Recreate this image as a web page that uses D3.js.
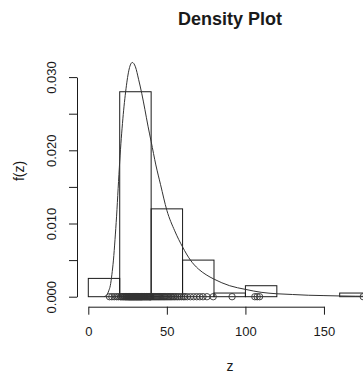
<!DOCTYPE html>
<html>
<head>
<meta charset="utf-8">
<script src="https://cdn.jsdelivr.net/npm/d3@7"></script>
<style>
  html, body { margin: 0; padding: 0; background: #fff; }
  svg { display: block; }
</style>
</head>
<body>
<script>
// ---- data ----
const title = "Density Plot";
const xLabel = "z";
const yLabel = "f(z)";

// observed sample values (n = 100)
const sampleValues = [
  13.5, 15, 16.5, 18, 19.2,
  20.5, 21, 21.8, 22.3, 22.9, 23.4, 23.8, 24.2, 24.6, 25, 25.3, 25.7, 26, 26.3, 26.6,
  26.9, 27.2, 27.5, 27.8, 28.1, 28.4, 28.7, 29, 29.3, 29.6, 29.9, 30.2, 30.5, 30.8, 31.1,
  31.4, 31.7, 32, 32.3, 32.6, 32.9, 33.2, 33.5, 33.8, 34.1, 34.4, 34.8, 35.2, 35.6, 36,
  36.4, 36.8, 37.2, 37.6, 38, 38.4, 38.8, 39.1, 39.4, 39.7, 39.9,
  40.6, 41.3, 42, 42.7, 43.4, 44.1, 44.8, 45.5, 46.2, 46.9, 47.6, 48.3, 49, 49.8, 50.6,
  51.4, 52.2, 53, 53.9, 54.8, 55.8, 56.8, 57.9, 59.2,
  60.5, 61.5, 63, 65, 67, 69, 71, 73, 75.5, 79.5,
  91.5,
  106, 107.5, 109,
  175
];

// histogram breaks
const breaks = [0, 20, 40, 60, 80, 100, 120, 140, 160, 180];

// fitted density curve
const curveX = [10, 11, 12, 13, 14, 15, 16, 17, 18, 19, 20, 22, 24, 26, 28, 30, 32, 34, 36, 38,
                40, 43, 46, 50, 55, 60, 65, 70, 75, 80, 90, 100, 110, 120, 130, 140, 150, 160, 170, 180];
const curveY = [0, 0.0001, 0.0003, 0.0008, 0.0015, 0.003, 0.005, 0.0078, 0.011, 0.0148, 0.0185,
                0.0243, 0.0284, 0.0311, 0.0320, 0.0314, 0.0297, 0.0278, 0.0256, 0.0233,
                0.0212, 0.0180, 0.0153, 0.0118, 0.0090, 0.0068, 0.0050, 0.0038, 0.0030, 0.0024,
                0.0015, 0.0010, 0.0006, 0.0004, 0.0003, 0.0002, 0.00015, 0.0001, 0.00007, 0.00005];

const xTicks = [0, 50, 100, 150];
const yTicks = [0, 0.005, 0.010, 0.015, 0.020, 0.025, 0.030];
const yTickLabels = ["0.000", "", "0.010", "", "0.020", "", "0.030"];

// ---- drawing ----
const W = 363, H = 373;
const svg = d3.select("body").append("svg").attr("width", W).attr("height", H);

const x = d3.scaleLinear().domain([0, 180]).range([88.3, 371.1]);
const y = d3.scaleLinear().domain([0, 0.030]).range([296.7, 77.1]);

const font = "'Liberation Sans', Arial, Helvetica, sans-serif";
const ink = "#1a1a1a";

// histogram
const bins = d3.bin().domain([breaks[0], breaks[breaks.length - 1]]).thresholds(breaks.slice(1, -1))(sampleValues);
const n = sampleValues.length;
svg.append("g").selectAll("rect").data(bins).join("rect")
  .attr("x", d => x(d.x0))
  .attr("width", d => x(d.x1) - x(d.x0))
  .attr("y", d => y(d.length / (n * (d.x1 - d.x0))))
  .attr("height", d => y(0) - y(d.length / (n * (d.x1 - d.x0))))
  .attr("fill", "none")
  .attr("stroke", ink)
  .attr("stroke-width", 1);

// density curve
const line = d3.line().x((d, i) => x(curveX[i])).y(d => y(d)).curve(d3.curveMonotoneX);
svg.append("path").datum(curveY).attr("d", line)
  .attr("fill", "none").attr("stroke", "#333").attr("stroke-width", 1);

// sample points
svg.append("g").selectAll("circle").data(sampleValues).join("circle")
  .attr("cx", d => x(d)).attr("cy", y(0)).attr("r", 3.2)
  .attr("fill", "none").attr("stroke", "#333").attr("stroke-width", 0.9);

// x axis
const xAxisScale = x.copy().domain([0, 150]).range([x(0), x(150)]);
const gx = svg.append("g").attr("transform", `translate(0,306.7)`)
  .call(d3.axisBottom(xAxisScale).tickValues(xTicks).tickFormat(d3.format("d")).tickSize(8).tickSizeOuter(0).tickPadding(12));
gx.selectAll("text").attr("font-size", 13).attr("font-family", font).attr("fill", ink);
gx.selectAll("line, path").attr("stroke", ink);

// y axis
const gy = svg.append("g").attr("transform", `translate(77,0)`)
  .call(d3.axisLeft(y).tickValues(yTicks).tickFormat((d, i) => yTickLabels[i]).tickSize(8).tickSizeOuter(0));
gy.selectAll("text")
  .attr("font-size", 13).attr("font-family", font).attr("fill", ink)
  .attr("text-anchor", "middle").attr("dy", 0)
  .attr("x", 0).attr("y", -20.7)
  .attr("transform", "rotate(-90)");
gy.selectAll("line, path").attr("stroke", ink);

// labels
svg.append("text").attr("x", 230).attr("y", 24.5).attr("text-anchor", "middle")
  .attr("font-family", font).attr("font-weight", "bold").attr("font-size", 18).attr("fill", ink)
  .text(title);
svg.append("text").attr("x", 230).attr("y", 371).attr("text-anchor", "middle")
  .attr("font-family", font).attr("font-size", 14).attr("fill", ink)
  .text(xLabel);
svg.append("text").attr("transform", "translate(24,171) rotate(-90)").attr("text-anchor", "middle")
  .attr("font-family", font).attr("font-size", 14).attr("fill", ink)
  .text(yLabel);
</script>
</body>
</html>
